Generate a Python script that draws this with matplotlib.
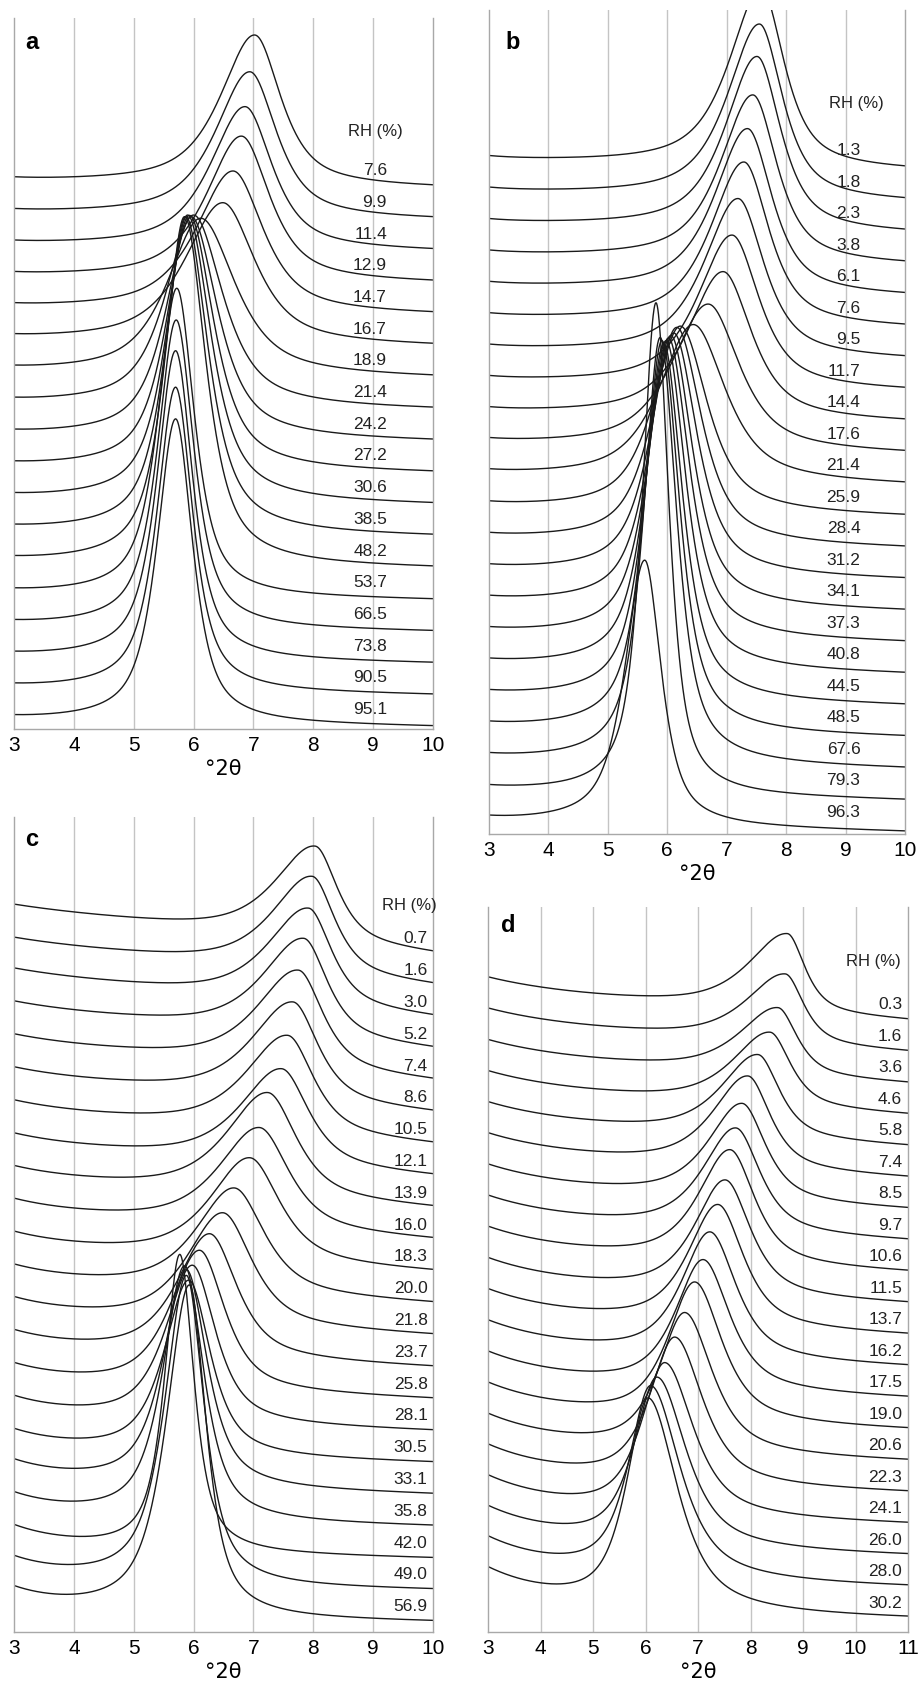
import numpy as np
import matplotlib
matplotlib.use("Agg")
import matplotlib.pyplot as plt

# ---------------- data ----------------
# peak position (deg 2theta), peak top above the right-end level (in curve spacings),
# left / right half widths (deg)
rh_a = ["7.6", "9.9", "11.4", "12.9", "14.7", "16.7", "18.9", "21.4", "24.2", "27.2",
        "30.6", "38.5", "48.2", "53.7", "66.5", "73.8", "90.5", "95.1"]
pos_a = [7.02, 6.94, 6.86, 6.80, 6.66, 6.49, 6.12, 6.00, 5.96, 5.93,
         5.90, 5.87, 5.85, 5.72, 5.71, 5.70, 5.70, 5.70]
top_a = [4.83, 4.67, 4.57, 4.64, 4.54, 4.54, 5.05, 6.15, 7.10, 8.14,
         9.15, 10.1, 11.1, 9.84, 9.84, 9.87, 9.72, 9.72]
wl_a = [0.68, 0.68, 0.69, 0.70, 0.73, 0.76, 0.66, 0.55, 0.49, 0.45,
        0.42, 0.40, 0.39, 0.37, 0.37, 0.37, 0.37, 0.37]
wr_a = [0.52, 0.53, 0.54, 0.56, 0.60, 0.64, 0.68, 0.58, 0.52, 0.48,
        0.46, 0.44, 0.42, 0.35, 0.35, 0.34, 0.34, 0.34]

rh_b = ["1.3", "1.8", "2.3", "3.8", "6.1", "7.6", "9.5", "11.7", "14.4", "17.6", "21.4",
        "25.9", "28.4", "31.2", "34.1", "37.3", "40.8", "44.5", "48.5", "67.6", "79.3", "96.3"]
pos_b = [7.58, 7.55, 7.51, 7.44, 7.35, 7.29, 7.19, 7.09, 6.94, 6.69, 6.44,
         6.22, 6.16, 6.11, 6.06, 6.02, 5.98, 5.94, 5.91, 5.88, 5.81, 5.62]
top_b = [5.78, 5.65, 5.62, 5.40, 5.33, 5.27, 5.11, 4.95, 4.79, 4.76, 5.11,
         6.06, 7.02, 7.84, 8.76, 9.68, 10.6, 11.5, 12.6, 13.7, 15.8, 8.63]
wl_b = [0.64, 0.64, 0.64, 0.65, 0.66, 0.67, 0.68, 0.69, 0.71, 0.73, 0.68,
        0.54, 0.49, 0.46, 0.43, 0.41, 0.39, 0.37, 0.35, 0.33, 0.28, 0.40]
wr_b = [0.46, 0.46, 0.47, 0.48, 0.49, 0.50, 0.52, 0.54, 0.57, 0.62, 0.64,
        0.54, 0.49, 0.46, 0.43, 0.41, 0.39, 0.37, 0.35, 0.33, 0.26, 0.33]

rh_c = ["0.7", "1.6", "3.0", "5.2", "7.4", "8.6", "10.5", "12.1", "13.9", "16.0", "18.3",
        "20.0", "21.8", "23.7", "25.8", "28.1", "30.5", "33.1", "35.8", "42.0", "49.0", "56.9"]
pos_c = [8.03, 7.98, 7.92, 7.84, 7.75, 7.66, 7.57, 7.47, 7.24, 7.10, 6.94,
         6.68, 6.49, 6.27, 6.10, 5.98, 5.92, 5.88, 5.85, 5.77, 5.88, 5.93]
top_c = [3.40, 3.45, 3.45, 3.50, 3.50, 3.50, 3.45, 3.40, 3.65, 3.55, 3.60,
         3.65, 3.87, 4.21, 4.69, 5.22, 5.75, 7.08, 8.20, 9.56, 9.90, 10.6]
wl_c = [0.80, 0.80, 0.81, 0.82, 0.83, 0.83, 0.83, 0.82, 0.82, 0.81, 0.79,
        0.76, 0.72, 0.66, 0.59, 0.53, 0.49, 0.46, 0.43, 0.30, 0.43, 0.46]
wr_c = [0.44, 0.45, 0.46, 0.47, 0.49, 0.50, 0.52, 0.54, 0.57, 0.59, 0.60,
        0.60, 0.58, 0.54, 0.50, 0.46, 0.43, 0.41, 0.38, 0.28, 0.35, 0.33]
# baseline tilt (per deg) and low angle rise for each curve of c
tilt_c = [0.20, 0.19, 0.19, 0.18, 0.17, 0.16, 0.15, 0.14, 0.13, 0.12, 0.11,
          0.10, 0.09, 0.08, 0.07, 0.06, 0.05, 0.05, 0.04, 0.04, 0.03, 0.03]
rise_c = [0.12, 0.15, 0.18, 0.21, 0.24, 0.27, 0.30, 0.33, 0.36, 0.40, 0.43,
          0.46, 0.50, 0.53, 0.56, 0.60, 0.63, 0.66, 0.69, 0.71, 0.73, 0.75]

rh_d = ["0.3", "1.6", "3.6", "4.6", "5.8", "7.4", "8.5", "9.7", "10.6", "11.5",
        "13.7", "16.2", "17.5", "19.0", "20.6", "22.3", "24.1", "26.0", "28.0", "30.2"]
pos_d = [8.70, 8.66, 8.52, 8.37, 8.14, 7.95, 7.84, 7.72, 7.61, 7.52,
         7.38, 7.23, 7.10, 6.94, 6.75, 6.56, 6.37, 6.22, 6.10, 6.05]
top_d = [2.76, 2.48, 2.41, 2.63, 2.92, 3.24, 3.37, 3.59, 3.90, 3.94,
         4.16, 4.29, 4.41, 4.70, 4.73, 4.95, 5.14, 5.68, 6.41, 7.02]
wl_d = [0.88, 0.88, 0.87, 0.85, 0.83, 0.80, 0.77, 0.75, 0.72, 0.70,
        0.68, 0.65, 0.63, 0.61, 0.59, 0.57, 0.54, 0.52, 0.50, 0.49]
wr_d = [0.40, 0.42, 0.44, 0.47, 0.49, 0.51, 0.53, 0.55, 0.56, 0.57,
        0.58, 0.59, 0.60, 0.61, 0.62, 0.63, 0.64, 0.65, 0.66, 0.66]
tilt_d = [0.108, 0.105, 0.10, 0.096, 0.092, 0.088, 0.084, 0.08, 0.076, 0.072,
          0.068, 0.064, 0.06, 0.056, 0.052, 0.048, 0.044, 0.04, 0.035, 0.03]
rise_d = [0.48, 0.52, 0.56, 0.60, 0.64, 0.68, 0.72, 0.76, 0.80, 0.84,
          0.88, 0.92, 0.96, 1.00, 1.04, 1.09, 1.14, 1.19, 1.25, 1.30]

# panel a / b: same baseline for every curve
tilt_a = [0.03] * len(rh_a)
rise_a = [0.05] * len(rh_a)
tilt_b = [0.045] * len(rh_b)
rise_b = [0.08] * len(rh_b)

ETA = 0.75
TICK_FONT = ["Liberation Sans Narrow", "Liberation Sans"]


def baseline(x, xmax, slope, amp, tau):
    return slope * (xmax - x) + amp * np.exp(-(x - 3) / tau)


def peak(x, x0, wl, wr):
    w = np.where(x < x0, wl, wr)
    d = (x - x0) / w
    return ETA / (1 + d ** 2) + (1 - ETA) * np.exp(-np.log(2) * d ** 2)


W, H = 923, 1684
fig = plt.figure(figsize=(W / 100, H / 100), dpi=100)


def make_ax(l, r, t, b):
    return fig.add_axes([l / W, 1 - b / H, (r - l) / W, (b - t) / H])


def draw(ax, rh, pos, top, wl, wr, tilt, rise, tau, xmax, ylim,
         letter, let_xy, lab_x, lab_dy, rh_x, rh_dy):
    n = len(rh)
    x = np.linspace(3, xmax, 1400)
    for k in range(n):
        off = n - 1 - k
        b = baseline(x, xmax, tilt[k], rise[k], tau)
        amp = top[k] - baseline(pos[k], xmax, tilt[k], rise[k], tau)
        y = off + b + amp * peak(x, pos[k], wl[k], wr[k])
        ax.plot(x, y, color="#1a1a1a", lw=1.0)
        ax.text(lab_x, off + lab_dy, rh[k], ha="right", va="center",
                fontsize=12.5, family="Liberation Sans", color="#222222")
    ax.text(rh_x, n - 1 + rh_dy, "RH (%)", ha="center", va="center",
            fontsize=12, family="Liberation Sans", color="#222222")
    ax.set_xlim(3, xmax)
    ax.set_ylim(*ylim)
    ax.set_xticks(range(3, xmax + 1))
    ax.set_yticks([])
    ax.tick_params(axis="x", length=0, pad=5, labelsize=15)
    for lab in ax.get_xticklabels():
        lab.set_family(TICK_FONT)
    for xv in range(4, xmax):
        ax.axvline(xv, color="#c4c4c4", lw=1.0, zorder=0)
    for s in ["left", "right", "bottom"]:
        ax.spines[s].set_color("#a8a8a8")
        ax.spines[s].set_linewidth(1.0)
    ax.spines["top"].set_visible(False)
    ax.set_xlabel("°2θ", fontsize=15, labelpad=3, family="DejaVu Sans")
    ax.text(let_xy[0], let_xy[1], letter, transform=ax.transAxes, fontsize=17,
            fontweight="bold", family="Liberation Sans", ha="left", va="center")


# panel a
ax = make_ax(14, 433, 18, 729)
s = 31.7
draw(ax, rh_a, pos_a, top_a, wl_a, wr_a, tilt_a, rise_a, 0.5, 10,
     ((727 - 729) / s, (727 - 18) / s), "a", (0.026, 0.965), 9.23, 0.55, 9.04, 1.8)

# panel b
ax = make_ax(489, 905, 10, 834)
s = 31.5
draw(ax, rh_b, pos_b, top_b, wl_b, wr_b, tilt_b, rise_b, 0.5, 10,
     ((832 - 834) / s, (832 - 10) / s), "b", (0.04, 0.96), 9.25, 0.62, 9.18, 2.13)

# panel c
ax = make_ax(14, 433, 817, 1632)
s = 31.8
draw(ax, rh_c, pos_c, top_c, wl_c, wr_c, tilt_c, rise_c, 1.0, 10,
     ((1622 - 1632) / s, (1622 - 817) / s), "c", (0.026, 0.972), 9.91, 0.48, 9.61, 1.54)

# panel d
ax = make_ax(488, 908, 907, 1632)
s = 31.5
draw(ax, rh_d, pos_d, top_d, wl_d, wr_d, tilt_d, rise_d, 1.5, 11,
     ((1619 - 1632) / s, (1619 - 907) / s), "d", (0.03, 0.975), 10.89, 0.5, 10.35, 1.87)

fig.savefig("out.png", dpi=100)
